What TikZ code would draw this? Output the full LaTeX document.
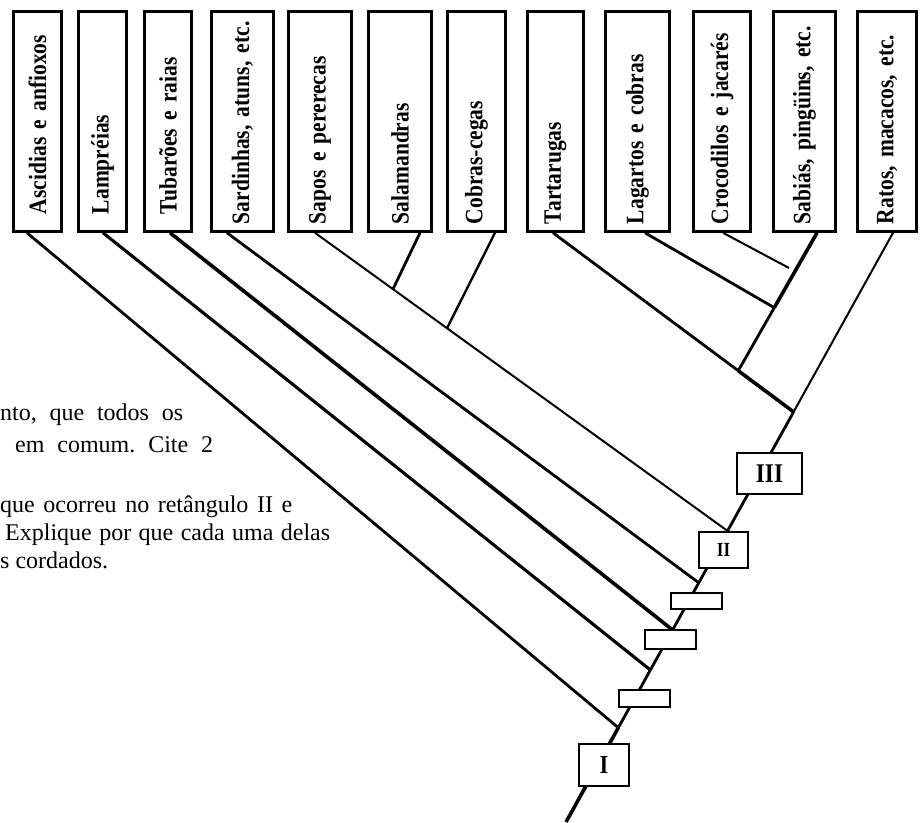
\documentclass[tikz,border=0pt]{standalone}
\usepackage{fontspec}
\setmainfont{Liberation Serif}
\newfontfamily\taxonfont[FakeStretch=0.86]{Liberation Serif}
\usetikzlibrary{calc}
\frenchspacing

\tikzset{
  taxon/.style={draw, line width=2.6pt, rotate=90, minimum width=220pt,
    text width=205pt, inner xsep=7.5pt, inner ysep=0pt, align=left,
    font=\taxonfont\fontsize{25}{28}\selectfont\bfseries},
  eventbox/.style={draw, fill=white, line width=1.7pt, inner sep=0pt,
    font=\taxonfont\fontsize{26}{26}\selectfont\bfseries},
  branch/.style={line width=2.8pt},
  thinbranch/.style={line width=2pt},
  thickbranch/.style={line width=3.6pt},
  question/.style={anchor=base west, inner sep=0pt, font=\fontsize{24}{28}\selectfont}
}

\begin{document}
\begin{tikzpicture}[x=1pt, y=-1pt]
  \useasboundingbox (0,0) rectangle (923,822);

  % taxa
  \foreach \nm/\cx/\bw/\pad/\txt in {
      asc/37.5/48.4/10/Ascidias e anfioxos,
      lam/102.5/48.4/10/Lampréias,
      tub/168/47.4/10/Tubarões e raias,
      sar/242.5/62.4/0/{Sardinhas, atuns, etc.},
      sap/320/63.4/0/Sapos e pererecas,
      sal/400/63.4/0/Salamandras,
      cob/476.5/58.4/0/Cobras-cegas,
      tar/555.5/56.4/0/Tartarugas,
      lag/637.5/64.4/0/Lagartos e cobras,
      cro/722/57.4/0/Crocodilos e jacarés,
      sab/804.5/62.4/0/{Sabiás, pingüins, etc.},
      rat/887/59.4/0/{Ratos, macacos, etc.}}
    \node[taxon, minimum height=\bw pt] (\nm) at (\cx,121.5) {\hspace*{\pad pt}\txt};

  % trunk
  \coordinate (root) at (566,822);
  \coordinate (top) at ([xshift=6pt]rat.west);
  \coordinate (jA) at ($(root)!0.160!(top)$);
  \coordinate (jL) at ($(root)!0.258!(top)$);
  \coordinate (jT) at ($(root)!0.326!(top)$);
  \coordinate (jS) at ($(root)!0.406!(top)$);
  \coordinate (jAm) at ($(root)!0.494!(top)$);
  \coordinate (jR) at ($(root)!0.696!(top)$);
  \draw[thickbranch] (root) -- (jA);
  \draw[branch] (jA) -- (jR);
  \draw[thinbranch] (jR) -- (top);

  \draw[branch] ([xshift=-10.5pt]asc.west) -- (jA);
  \draw[line width=3.1pt] ([xshift=0.5pt]lam.west) -- (jL);
  \draw[thickbranch] ([xshift=2pt]tub.west) -- (jT);
  \draw[branch] ([xshift=-15.5pt]sar.west) -- (jS);

  % anfibios
  \coordinate (sapB) at ([xshift=-5pt]sap.west);
  \coordinate (jSal) at ($(sapB)!0.189!(jAm)$);
  \coordinate (jCob) at ($(sapB)!0.320!(jAm)$);
  \draw[thinbranch] (sapB) -- (jAm);
  \draw[branch] ([xshift=20pt]sal.west) -- (jSal);
  \draw[line width=2.4pt] ([xshift=18.5pt]cob.west) -- (jCob);

  % amniotas
  \coordinate (tarB) at ([xshift=-2.5pt]tar.west);
  \coordinate (jAv) at ($(tarB)!0.77!(jR)$);
  \draw[branch] (tarB) -- (jAv);
  \draw[thickbranch] (jAv) -- (jR);
  \coordinate (sabB) at ([xshift=12.5pt]sab.west);
  \coordinate (jLag) at ($(sabB)!0.543!(jAv)$);
  \draw[thickbranch] (sabB) -- (jLag);
  \draw[branch] (jLag) -- (jAv);
  \draw[branch] ([xshift=7.5pt]lag.west) -- (jLag);
  \coordinate (croEnd) at (789,268);
  \draw[thinbranch] ([xshift=1pt]cro.west) -- (croEnd);

  % caixas no tronco
  \node[eventbox, minimum width=50.3pt, minimum height=42.3pt] (evI) at (604,765) {I};
  \node[eventbox, minimum width=51.3pt, minimum height=17.3pt] (ev1) at (644.5,698.5) {};
  \node[eventbox, minimum width=51.3pt, minimum height=19.3pt] (ev2) at (670.5,639.5) {};
  \node[eventbox, minimum width=51.3pt, minimum height=16.3pt] (ev3) at (696.5,601) {};
  \node[eventbox, minimum width=49.3pt, minimum height=36.3pt, font=\taxonfont\fontsize{20}{20}\selectfont\bfseries] (evII) at (723.5,550) {II};
  \node[eventbox, minimum width=65.3pt, minimum height=41.3pt, font=\taxonfont\fontsize{27}{27}\selectfont\bfseries] (evIII) at (769.5,473.5) {III};

  % texto da questao
  \node[question] (q1) at (0,420) {\makebox[183pt][s]{nto, que todos os}};
  \node[question] (q2) at (15,452) {\makebox[198pt][s]{em comum. Cite 2}};
  \node[question] (q3) at (0,512) {\makebox[292pt][s]{que ocorreu no retângulo II e}};
  \node[question] (q4) at (5,540) {\makebox[325pt][s]{Explique por que cada uma delas}};
  \node[question] (q5) at (0,568) {s cordados.};
\end{tikzpicture}
\end{document}
